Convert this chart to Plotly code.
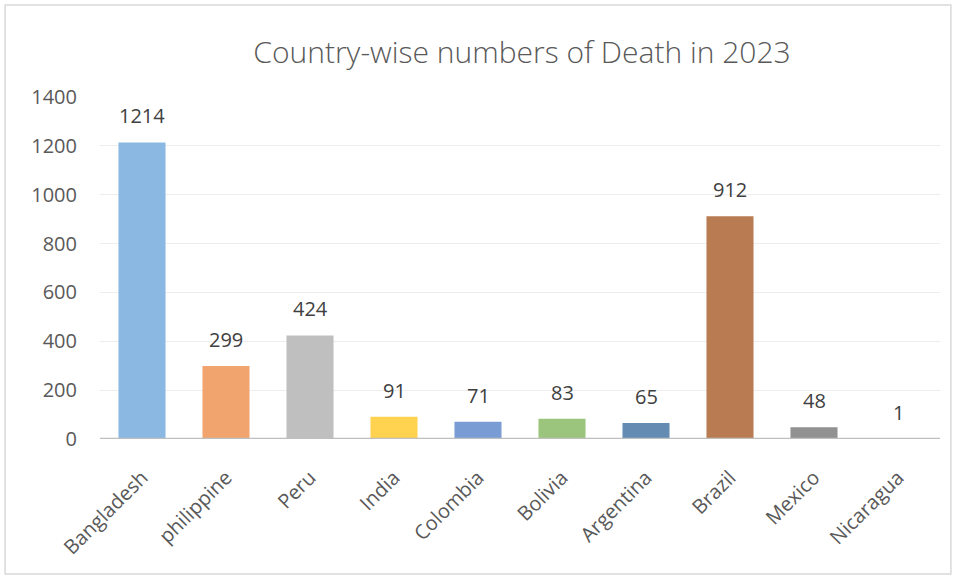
import plotly.graph_objects as go

countries = ["Bangladesh", "philippine", "Peru", "India", "Colombia", "Bolivia",
             "Argentina", "Brazil", "Mexico", "Nicaragua"]
deaths = [1214, 299, 424, 91, 71, 83, 65, 912, 48, 1]
colors = ["#8AB8E2", "#F2A46E", "#BFBFBF", "#FFD24F", "#7A9CD5", "#9BC57C",
          "#648CB3", "#B97C52", "#919191", "#4A77B5"]
yticks = [0, 200, 400, 600, 800, 1000, 1200, 1400]

fig = go.Figure(go.Bar(x=countries, y=deaths, marker=dict(color=colors, line=dict(width=0)),
                       hoverinfo="x+y"))

for c, v in zip(countries, deaths):
    fig.add_annotation(x=c, y=v, text=str(v), showarrow=False, yanchor="bottom",
                       yshift=11, font=dict(family="Open Sans", size=20, color="#404040"))

fig.update_layout(
    width=958, height=578,
    margin=dict(l=100, r=18, t=97, b=139),
    paper_bgcolor="white", plot_bgcolor="white",
    bargap=0.44,
    showlegend=False,
    title=dict(text="Country-wise numbers of Death in 2023", x=522/958, xanchor="center",
               y=1 - 52/578, yanchor="middle",
               font=dict(family="Open Sans", size=30, color="#595959", weight=300)),
    xaxis=dict(tickangle=-45, tickfont=dict(family="Open Sans", size=20, color="#595959"),
               showline=False, showgrid=False, ticks="", zeroline=False,
               ticklabelstandoff=22),
    yaxis=dict(range=[0, 1400], tickvals=yticks, ticktext=[str(t) for t in yticks],
               tickfont=dict(family="Open Sans", size=20, color="#595959"),
               showgrid=True, gridcolor="#EDEDED", gridwidth=1, zeroline=False,
               showline=False, ticks="", ticklen=0, ticklabelstandoff=22),
    shapes=[
        dict(type="line", xref="paper", yref="y", x0=0, x1=1, y0=0, y1=0,
             line=dict(color="#BFBFBF", width=2.5)),
        dict(type="rect", xref="paper", yref="paper", x0=-0.113, x1=1.013, y0=-0.395, y1=1.269,
             line=dict(color="#D9D9D9", width=1.5), layer="below"),
    ],
)

fig.write_html("out.html")
